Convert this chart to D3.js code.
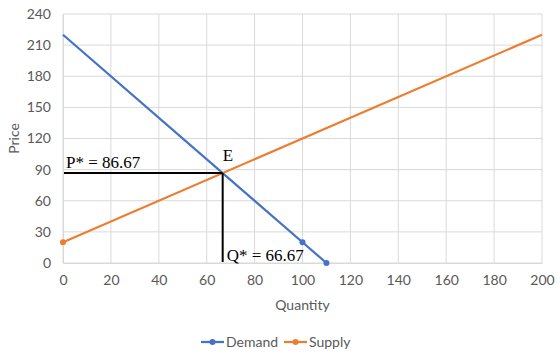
<!DOCTYPE html>
<html>
<head>
<meta charset="utf-8">
<script src="https://cdn.jsdelivr.net/npm/d3@7"></script>
<style>
  body { margin: 0; background: #fff; }
  svg { display: block; font-family: Lato, "Open Sans", sans-serif; }
</style>
</head>
<body>
<svg id="chart" width="560" height="355"></svg>
<script>
// data
const demandQ = [0, 100, 110];
const demandP = [220, 20, 0];
const demandMarkers = [false, true, true];
const supplyQ = [0, 200];
const supplyP = [20, 220];
const supplyMarkers = [true, false];
const xTicks = [0, 20, 40, 60, 80, 100, 120, 140, 160, 180, 200];
const yTicks = [0, 30, 60, 90, 120, 150, 180, 210, 240];
const eqQ = 66.67;
const eqP = 86.67;

const svg = d3.select('#chart');
const margin = { left: 63, right: 18, top: 14, bottom: 92 };
const width = 560 - margin.left - margin.right;
const height = 355 - margin.top - margin.bottom;

const x = d3.scaleLinear().domain([0, 200]).range([0, width]);
const y = d3.scaleLinear().domain([0, 240]).range([height, 0]);

const g = svg.append('g').attr('transform', `translate(${margin.left},${margin.top})`);
const sans = 'Lato, "Open Sans", sans-serif';

// grid
g.append('g').selectAll('line').data(yTicks).join('line')
    .attr('x1', 0).attr('x2', width)
    .attr('y1', d => y(d)).attr('y2', d => y(d))
    .attr('stroke', '#d9d9d9').attr('stroke-width', 1);
g.append('g').selectAll('line').data(xTicks).join('line')
    .attr('x1', d => x(d)).attr('x2', d => x(d))
    .attr('y1', 0).attr('y2', height)
    .attr('stroke', '#d9d9d9').attr('stroke-width', 1);

// axes
const xAxis = g.append('g').attr('transform', `translate(0,${height})`)
    .call(d3.axisBottom(x).tickValues(xTicks).tickSize(0).tickPadding(12));
const yAxis = g.append('g')
    .call(d3.axisLeft(y).tickValues(yTicks).tickSize(0).tickPadding(12));
[xAxis, yAxis].forEach(a => {
    a.select('.domain').attr('stroke', '#d9d9d9');
    a.selectAll('text').attr('fill', '#595959').style('font-size', '14px')
        .style('font-family', sans);
});

// axis titles
svg.append('text')
    .attr('x', margin.left + width / 2).attr('y', 310)
    .attr('text-anchor', 'middle').attr('fill', '#595959').style('font-size', '14px')
    .text('Quantity');
svg.append('text')
    .attr('transform', `translate(19,${margin.top + height / 2}) rotate(-90)`)
    .attr('text-anchor', 'middle').attr('fill', '#595959').style('font-size', '14px')
    .text('Price');

// series
const line = d3.line().x(d => x(d[0])).y(d => y(d[1]));
const series = [
    { name: 'Demand', color: '#4472C4', q: demandQ, p: demandP, m: demandMarkers },
    { name: 'Supply', color: '#ED7D31', q: supplyQ, p: supplyP, m: supplyMarkers }
];
series.forEach(s => {
    const pts = s.q.map((q, i) => [q, s.p[i], s.m[i]]);
    g.append('path').datum(pts)
        .attr('d', line).attr('fill', 'none')
        .attr('stroke', s.color).attr('stroke-width', 2.25);
    g.selectAll(null).data(pts.filter(d => d[2])).join('circle')
        .attr('cx', d => x(d[0])).attr('cy', d => y(d[1])).attr('r', 3)
        .attr('fill', s.color);
});

// equilibrium lines
g.append('line')
    .attr('x1', x(0) + 1).attr('x2', x(eqQ))
    .attr('y1', y(eqP)).attr('y2', y(eqP))
    .attr('stroke', '#000').attr('stroke-width', 2);
g.append('line')
    .attr('x1', x(eqQ)).attr('x2', x(eqQ))
    .attr('y1', y(eqP)).attr('y2', y(0) - 1)
    .attr('stroke', '#000').attr('stroke-width', 2);

const serif = '"Liberation Serif", "Times New Roman", serif';
g.append('text').attr('x', x(0) + 3).attr('y', y(eqP) - 5)
    .style('font-family', serif).style('font-size', '17px').attr('fill', '#000')
    .text(`P* = ${eqP}`);
g.append('text').attr('x', x(eqQ)).attr('y', y(eqP) - 12)
    .style('font-family', serif).style('font-size', '17px').attr('fill', '#000')
    .text('E');
g.append('text').attr('x', x(eqQ) + 4).attr('y', y(0) - 2)
    .style('font-family', serif).style('font-size', '17px').attr('fill', '#000')
    .text(`Q* = ${eqQ}`);

// legend
const legend = svg.append('g').attr('transform', 'translate(201,342)');
series.forEach((s, i) => {
    const lg = legend.append('g').attr('transform', `translate(${i * 83},0)`);
    lg.append('line').attr('x1', 0).attr('x2', 23).attr('y1', 0).attr('y2', 0)
        .attr('stroke', s.color).attr('stroke-width', 2.25);
    lg.append('circle').attr('cx', 11.5).attr('cy', 0).attr('r', 3).attr('fill', s.color);
    lg.append('text').attr('x', 25).attr('y', 0).attr('dy', '0.35em')
        .attr('fill', '#595959').style('font-size', '14px').text(s.name);
});
</script>
</body>
</html>
